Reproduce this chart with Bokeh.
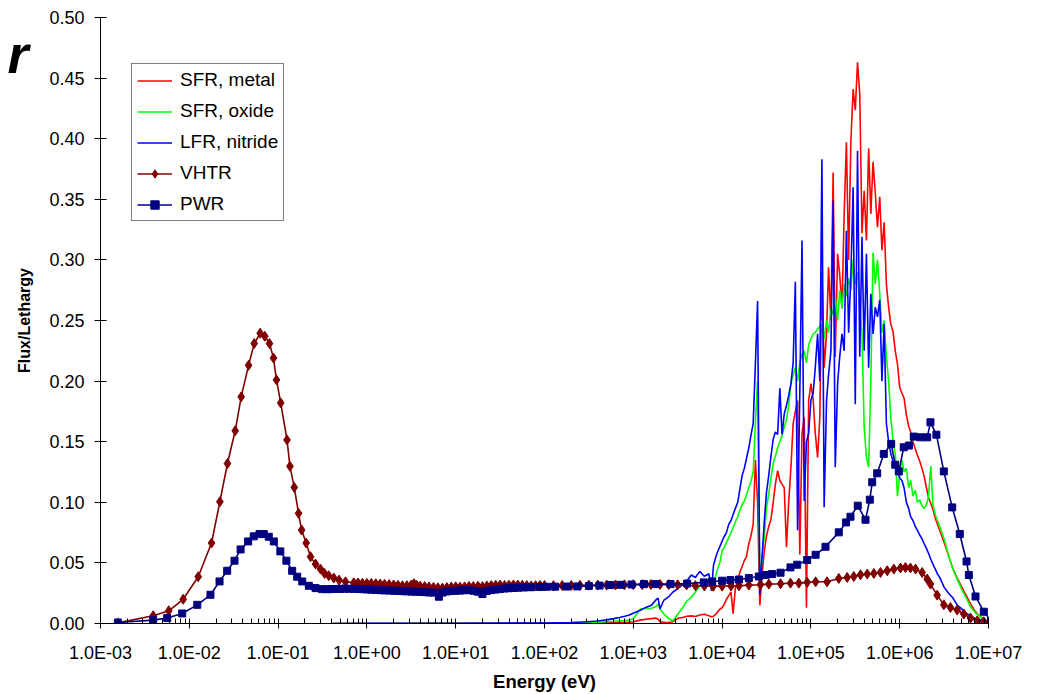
from bokeh.plotting import figure
from bokeh.models import FixedTicker, Range1d, LinearAxis
from bokeh.embed import file_html
from bokeh.resources import INLINE

FONT = "Liberation Sans"

# ---------------- axis ticks ----------------
x_ticks = [1e-3, 1e-2, 1e-1, 1e0, 1e1, 1e2, 1e3, 1e4, 1e5, 1e6, 1e7]
x_tick_labels = ["1.0E-03", "1.0E-02", "1.0E-01", "1.0E+00", "1.0E+01", "1.0E+02",
                 "1.0E+03", "1.0E+04", "1.0E+05", "1.0E+06", "1.0E+07"]
y_ticks = [0.00, 0.05, 0.10, 0.15, 0.20, 0.25, 0.30, 0.35, 0.40, 0.45, 0.50]
y_tick_labels = ["0.00", "0.05", "0.10", "0.15", "0.20", "0.25", "0.30", "0.35",
                 "0.40", "0.45", "0.50"]

# ---------------- fast spectra (shared energy groups, eV) ----------------
fast_energy = [
    0.41, 1.0, 10.0, 100.0, 200.0, 300.0, 400.0, 500.0, 600.0, 700.0, 800.0, 900.0,
    1000.0, 1200.0, 1400.0, 1600.0, 1800.0, 1900.0, 2000.0, 2200.0, 2500.0, 2800.0,
    3200.0, 3600.0, 4000.0, 4500.0, 5000.0, 5600.0, 6300.0, 7100.0, 7600.0, 8000.0,
    8500.0, 9000.0, 9500.0,
    1.00e4, 1.06e4, 1.12e4, 1.19e4, 1.26e4, 1.33e4, 1.41e4, 1.50e4, 1.58e4, 1.68e4,
    1.78e4, 1.88e4, 2.00e4, 2.11e4, 2.24e4, 2.37e4, 2.51e4, 2.66e4, 2.82e4, 2.99e4,
    3.16e4, 3.35e4, 3.55e4, 3.76e4, 3.98e4, 4.22e4, 4.47e4, 4.73e4, 5.01e4, 5.31e4,
    5.62e4, 5.96e4, 6.31e4, 6.68e4, 7.08e4, 7.50e4, 7.94e4, 8.41e4, 8.91e4, 9.44e4,
    1.00e5, 1.06e5, 1.12e5, 1.19e5, 1.26e5, 1.33e5, 1.41e5, 1.50e5, 1.58e5, 1.68e5,
    1.78e5, 1.88e5, 2.00e5, 2.11e5, 2.24e5, 2.37e5, 2.51e5, 2.66e5, 2.82e5, 2.99e5,
    3.16e5, 3.35e5, 3.55e5, 3.76e5, 3.98e5, 4.22e5, 4.47e5, 4.73e5, 5.01e5, 5.31e5,
    5.62e5, 5.96e5, 6.31e5, 6.68e5, 7.08e5, 7.50e5, 7.94e5, 8.41e5, 8.91e5, 9.44e5,
    1.00e6, 1.06e6, 1.12e6, 1.19e6, 1.26e6, 1.33e6, 1.41e6, 1.50e6, 1.58e6, 1.68e6,
    1.78e6, 1.88e6, 2.00e6, 2.11e6, 2.24e6, 2.37e6, 2.51e6, 2.66e6, 2.82e6, 2.99e6, 3.16e6,
    3.55e6, 3.98e6, 4.47e6, 5.01e6, 5.62e6, 6.31e6, 7.08e6, 7.94e6, 8.91e6, 1.00e7, 1.05e7,
]

sfr_metal = [
    0, 0, 0.0001, 0.0001, 0.0002, 0.0003, 0.0004, 0.0005, 0.0006, 0.0008, 0.001, 0.0011,
    0.0014, 0.0028, 0.0035, 0.004, 0.0044, 0.0035, 0.0014, 0.001, 0.0008, 0.0015,
    0.0044, 0.005, 0.006, 0.0063, 0.0058, 0.007, 0.0077, 0.0063, 0.0055, 0.006,
    0.0077, 0.010, 0.012,
    0.013, 0.016, 0.020, 0.023, 0.026, 0.008, 0.029, 0.036, 0.042, 0.047,
    0.052, 0.055, 0.066, 0.072, 0.082, 0.135, 0.100, 0.015, 0.040, 0.060,
    0.072, 0.080, 0.086, 0.100, 0.115, 0.126, 0.118, 0.115, 0.112, 0.063,
    0.100, 0.129, 0.165, 0.175, 0.184, 0.057, 0.157, 0.170, 0.013, 0.184,
    0.198, 0.185, 0.157, 0.137, 0.170, 0.290, 0.211, 0.239, 0.294, 0.250,
    0.372, 0.220, 0.305, 0.288, 0.260, 0.338, 0.397, 0.300, 0.398, 0.441,
    0.4235, 0.463, 0.437, 0.322, 0.357, 0.316, 0.392, 0.338, 0.381, 0.355,
    0.327, 0.352, 0.308, 0.331, 0.280, 0.261, 0.247, 0.241, 0.225, 0.214,
    0.195, 0.190, 0.186, 0.172, 0.163, 0.158, 0.150, 0.144, 0.139, 0.134,
    0.128, 0.122, 0.112, 0.104, 0.099, 0.094, 0.087, 0.082, 0.077, 0.072, 0.067,
    0.056, 0.045, 0.037, 0.030, 0.023, 0.016, 0.010, 0.006, 0.0033, 0.0012, 0.0,
]

sfr_oxide = [
    0, 0, 0.0001, 0.0002, 0.0004, 0.0007, 0.001, 0.0014, 0.0018, 0.0022, 0.0025, 0.0028,
    0.004, 0.0119, 0.0124, 0.0125, 0.014, 0.016, 0.012, 0.008, 0.004, 0.0022,
    0.008, 0.013, 0.0185, 0.0216, 0.026, 0.031, 0.034, 0.0366, 0.029, 0.027,
    0.040, 0.046, 0.051,
    0.060, 0.063, 0.067, 0.071, 0.075, 0.079, 0.084, 0.088, 0.093, 0.098,
    0.101, 0.106, 0.112, 0.117, 0.125, 0.165, 0.200, 0.030, 0.055, 0.072,
    0.095, 0.107, 0.120, 0.132, 0.138, 0.145, 0.150, 0.155, 0.162, 0.168,
    0.180, 0.198, 0.205, 0.211, 0.200, 0.215, 0.222, 0.225, 0.215, 0.230,
    0.235, 0.239, 0.240, 0.243, 0.245, 0.250, 0.235, 0.250, 0.240, 0.260,
    0.255, 0.270, 0.250, 0.275, 0.260, 0.280, 0.270, 0.285, 0.275, 0.300,
    0.280, 0.290, 0.260, 0.240, 0.162, 0.137, 0.129, 0.200, 0.306, 0.280,
    0.300, 0.272, 0.240, 0.250, 0.220, 0.200, 0.170, 0.150, 0.140, 0.105,
    0.123, 0.135, 0.125, 0.128, 0.112, 0.118, 0.105, 0.110, 0.100, 0.102,
    0.097, 0.095, 0.098, 0.105, 0.130, 0.098, 0.090, 0.085, 0.080, 0.075, 0.070,
    0.056, 0.045, 0.036, 0.028, 0.021, 0.0135, 0.009, 0.006, 0.003, 0.001, 0.0,
]

lfr_nitride = [
    0, 0.0001, 0.0002, 0.0004, 0.0008, 0.0015, 0.002, 0.003, 0.004, 0.005, 0.006, 0.007,
    0.0085, 0.011, 0.0135, 0.015, 0.0195, 0.021, 0.012, 0.019, 0.022, 0.026,
    0.029, 0.032, 0.035, 0.040, 0.038, 0.043, 0.039, 0.041, 0.027, 0.048,
    0.055, 0.060, 0.064,
    0.068, 0.072, 0.075, 0.082, 0.085, 0.090, 0.095, 0.100, 0.110, 0.122,
    0.128, 0.136, 0.145, 0.155, 0.165, 0.214, 0.266, 0.024, 0.055, 0.085,
    0.108, 0.122, 0.138, 0.152, 0.158, 0.156, 0.194, 0.156, 0.173, 0.180,
    0.188, 0.198, 0.215, 0.282, 0.077, 0.190, 0.316, 0.101, 0.150, 0.157,
    0.184, 0.190, 0.211, 0.239, 0.200, 0.383, 0.096, 0.184, 0.205, 0.225,
    0.349, 0.129, 0.198, 0.220, 0.239, 0.225, 0.324, 0.240, 0.288, 0.360,
    0.181, 0.390, 0.220, 0.319, 0.225, 0.305, 0.211, 0.272, 0.239, 0.261,
    0.253, 0.267, 0.200, 0.247, 0.165, 0.150, 0.140, 0.134, 0.131, 0.126,
    0.120, 0.118, 0.112, 0.100, 0.095, 0.088, 0.085, 0.080, 0.077, 0.073,
    0.070, 0.066, 0.062, 0.058, 0.053, 0.049, 0.045, 0.041, 0.038, 0.034, 0.030,
    0.025, 0.021, 0.015, 0.012, 0.0085, 0.006, 0.0042, 0.0032, 0.0018, 0.0008, 0.0,
]

# ---------------- VHTR ----------------
vhtr_energy = [
    1.57e-3, 3.92e-3, 5.87e-3, 8.53e-3, 1.26e-2, 1.78e-2, 2.21e-2, 2.69e-2, 3.29e-2,
    3.84e-2, 4.65e-2, 5.38e-2, 6.28e-2, 7.08e-2, 8.00e-2, 8.87e-2, 9.59e-2, 0.107,
    0.126, 0.136, 0.152, 0.170, 0.184, 0.207, 0.232, 0.264, 0.300, 0.333, 0.372,
    0.424, 0.486, 0.574, 0.711,
    0.794, 0.891, 1.0, 1.12, 1.26, 1.41, 1.58, 1.78, 2.0, 2.24, 2.51, 2.82, 3.16,
    3.39, 3.63, 3.98, 4.47, 5.01, 5.62, 6.31, 7.08, 7.94, 8.91, 10.0, 11.2, 12.6,
    14.1, 15.8, 17.8, 20.0, 22.4, 25.1, 28.2, 31.6, 35.5, 39.8, 44.7, 50.1, 56.2,
    63.1, 70.8, 79.4, 89.1, 100.0,
    126.0, 158.0, 200.0, 251.0, 316.0, 398.0, 501.0, 631.0, 794.0, 1000.0, 1260.0,
    1580.0, 2000.0, 2510.0, 3160.0, 3980.0, 5010.0, 6310.0, 7940.0,
    1.0e4, 1.26e4, 1.55e4, 2.0e4, 2.70e4, 3.36e4, 4.55e4, 5.89e4, 7.31e4, 9.08e4,
    1.13e5, 1.52e5, 2.06e5, 2.56e5, 3.04e5, 3.62e5, 4.31e5, 5.12e5, 6.08e5, 7.23e5,
    8.59e5, 1.02e6, 1.16e6, 1.32e6, 1.51e6, 1.79e6, 2.04e6, 2.22e6, 2.64e6, 3.14e6,
    3.73e6, 4.44e6, 5.27e6, 6.27e6, 7.46e6, 8.85e6, 1.0e7,
]
vhtr_flux = [
    0.0005, 0.0064, 0.0105, 0.020, 0.0386, 0.0664, 0.1005, 0.132, 0.159,
    0.187, 0.213, 0.231, 0.2395, 0.237, 0.231, 0.219, 0.201, 0.182,
    0.1515, 0.1297, 0.1123, 0.0909, 0.0771, 0.0664, 0.0551, 0.049, 0.0449, 0.0413, 0.0394,
    0.0375, 0.0358, 0.0344, 0.0336,
    0.0334, 0.0332, 0.0331, 0.0330, 0.0328, 0.0326, 0.0323, 0.0321, 0.0318, 0.0315, 0.0311,
    0.0312, 0.0318, 0.0328, 0.0316, 0.0308, 0.0305, 0.0302, 0.0298, 0.0294, 0.0292, 0.0296,
    0.0301, 0.0303, 0.0300, 0.0302, 0.0306, 0.0305, 0.0308, 0.0304, 0.0310, 0.0313, 0.0316,
    0.0317, 0.0314, 0.0316, 0.0318, 0.0317, 0.0315, 0.0313, 0.0310, 0.0312, 0.0314, 0.0313,
    0.0312, 0.0313, 0.0314, 0.0315, 0.0316, 0.0317, 0.0317, 0.0318, 0.0319, 0.0320, 0.0321,
    0.0322, 0.0322, 0.0321, 0.0320, 0.0318, 0.0312, 0.0310, 0.0308,
    0.0308, 0.0309, 0.0311, 0.0317, 0.0320, 0.0325, 0.0328, 0.0333, 0.0333, 0.0339,
    0.0344, 0.0344, 0.0372, 0.0380, 0.0388, 0.0402, 0.0408, 0.0413, 0.0421, 0.0435,
    0.0449, 0.0458, 0.0462, 0.0458, 0.0449, 0.0421, 0.0367, 0.0325, 0.0234, 0.0154,
    0.0132, 0.0111, 0.0078, 0.0045, 0.0022, 0.0014, 0.0005,
]

# ---------------- PWR ----------------
pwr_energy = [
    1.57e-3, 3.92e-3, 5.64e-3, 8.32e-3, 1.23e-2, 1.73e-2, 2.19e-2, 2.67e-2, 3.23e-2,
    3.78e-2, 4.60e-2, 5.32e-2, 6.18e-2, 6.90e-2, 7.85e-2, 8.95e-2, 0.106, 0.124, 0.144,
    0.164, 0.187, 0.222, 0.264, 0.313,
    0.355, 0.398, 0.447, 0.501, 0.562, 0.631, 0.708, 0.794, 0.891, 1.0, 1.12, 1.26,
    1.41, 1.58, 1.78, 2.0, 2.24, 2.51, 2.82, 3.16, 3.55, 3.98, 4.47, 5.01, 5.62, 6.46,
    7.08, 7.94, 8.91, 10.0, 11.2, 12.6, 14.1, 15.8, 17.8, 20.0, 22.4, 25.1, 28.2, 31.6,
    35.5, 39.8, 44.7, 50.1, 58.9, 70.8, 89.1, 107.0,
    132.0, 178.0, 234.0, 316.0, 417.0, 550.0, 724.0, 955.0, 1320.0, 1780.0, 2630.0,
    4040.0, 6220.0, 7730.0, 1.00e4, 1.24e4, 1.55e4, 2.00e4, 2.59e4, 3.08e4, 3.66e4,
    4.55e4, 5.89e4, 7.01e4, 9.08e4, 1.13e5, 1.46e5, 2.06e5, 2.49e5, 2.79e5, 3.37e5,
    4.12e5, 4.61e5, 4.90e5, 5.58e5, 6.62e5, 8.02e5, 8.91e5, 9.77e5, 1.11e6, 1.27e6,
    1.44e6, 1.71e6, 2.04e6, 2.22e6, 2.59e6, 3.14e6, 3.90e6, 4.75e6, 5.66e6, 6.01e6,
    7.14e6, 8.85e6, 1.07e7,
]
pwr_flux = [
    0.0008, 0.0028, 0.0045, 0.0083, 0.0154, 0.0237, 0.0347, 0.0435, 0.0518,
    0.0611, 0.0677, 0.0719, 0.0738, 0.0738, 0.0716, 0.0677, 0.0595, 0.0518, 0.0435,
    0.0386, 0.0347, 0.0311, 0.0292, 0.0284,
    0.0283, 0.0284, 0.0285, 0.0286, 0.0287, 0.0287, 0.0286, 0.0285, 0.0283, 0.0281, 0.0279, 0.0277,
    0.0275, 0.0273, 0.0272, 0.0270, 0.0269, 0.0267, 0.0265, 0.0263, 0.0262, 0.0261, 0.0259, 0.0256,
    0.0255, 0.0221, 0.0255, 0.0264, 0.0268, 0.0270, 0.0272, 0.0274, 0.0276, 0.0270, 0.0262, 0.0243,
    0.0268, 0.0276, 0.0280, 0.0285, 0.0289, 0.0291, 0.0293, 0.0295, 0.0297, 0.0299, 0.0301, 0.0303,
    0.0304, 0.0305, 0.0306, 0.0310, 0.0313, 0.0317, 0.0319, 0.0322, 0.0325, 0.0325, 0.0325,
    0.0330, 0.0339, 0.0347, 0.0353, 0.0358, 0.0363, 0.0375, 0.0388, 0.0400, 0.0408,
    0.0419, 0.0463, 0.0485, 0.0524, 0.0567, 0.0633, 0.0752, 0.0834, 0.0881, 0.0972,
    0.0856, 0.1022, 0.1165, 0.1239, 0.1399, 0.1482, 0.1310, 0.1255, 0.1454, 0.1468,
    0.1542, 0.1536, 0.1536, 0.1660, 0.1558, 0.1255, 0.0958, 0.0738, 0.0512, 0.0400,
    0.0223, 0.0097, 0.0022,
]

# cut-off fragment of a slide title at the top-left corner
corner_text = "r"
corner_text_level = 0.47

assert len(fast_energy) == len(sfr_metal) == len(sfr_oxide) == len(lfr_nitride)
assert len(vhtr_energy) == len(vhtr_flux)
assert len(pwr_energy) == len(pwr_flux)

x_minor = [m * t for t in x_ticks[:-1] for m in range(2, 10)]

p = figure(width=1024, height=694, x_axis_type="log",
           x_range=Range1d(1e-3, 1e7), y_range=Range1d(0, 0.5),
           output_backend="svg", toolbar_location=None,
           min_border_left=100, min_border_right=36,
           min_border_top=17, min_border_bottom=71)
p.outline_line_color = None
p.grid.visible = False
p.background_fill_color = "white"
p.border_fill_color = "white"

xa = p.xaxis[0]
xa.ticker = FixedTicker(ticks=x_ticks, minor_ticks=x_minor)
xa.major_label_overrides = dict(zip(x_ticks, x_tick_labels))
xa.major_tick_in = 5
xa.major_tick_out = 5
xa.minor_tick_in = 5
xa.minor_tick_out = 0
xa.major_label_standoff = 14
xa.axis_label = "Energy (eV)"
xa.axis_label_standoff = 5
xa.axis_label_text_font_size = "18.5px"

ya = p.yaxis[0]
ya.ticker = FixedTicker(ticks=y_ticks, minor_ticks=[])
ya.major_label_overrides = dict(zip(y_ticks, y_tick_labels))
ya.major_tick_in = 6
ya.major_tick_out = 6
ya.minor_tick_in = 0
ya.minor_tick_out = 0
ya.major_label_standoff = 10
ya.axis_label = "Flux/Lethargy"
ya.axis_label_standoff = 13
ya.axis_label_text_font_size = "16px"

for ax in (xa, ya):
    ax.axis_line_color = "black"
    ax.major_tick_line_color = "black"
    ax.minor_tick_line_color = "black"
    ax.major_label_text_font = FONT
    ax.major_label_text_font_size = "18px"
    ax.major_label_text_color = "black"
    ax.axis_label_text_font = FONT
    ax.axis_label_text_font_style = "bold"
    ax.axis_label_text_color = "black"

# outer, invisible axis that only carries the corner text fragment
corner = LinearAxis(ticker=FixedTicker(ticks=[corner_text_level], minor_ticks=[]),
                    major_label_overrides={corner_text_level: corner_text},
                    axis_line_color=None, major_tick_line_color=None,
                    minor_tick_line_color=None, major_tick_in=0, major_tick_out=0,
                    minor_tick_in=0, minor_tick_out=0, major_label_standoff=-15,
                    major_label_text_font=FONT, major_label_text_font_size="54px",
                    major_label_text_font_style="bold italic",
                    major_label_text_color="black")
p.add_layout(corner, "left")

p.line(fast_energy, sfr_metal, line_color="#FF0000", line_width=1.6, legend_label="SFR, metal")
p.line(fast_energy, sfr_oxide, line_color="#00FF00", line_width=1.6, legend_label="SFR, oxide")
p.line(fast_energy, lfr_nitride, line_color="#0000FF", line_width=1.6, legend_label="LFR, nitride")
p.line(vhtr_energy, vhtr_flux, line_color="#800000", line_width=1.6, legend_label="VHTR")
p.scatter(vhtr_energy, vhtr_flux, marker="diamond", size=10, fill_color="#800000",
          line_color="#800000", legend_label="VHTR")
p.line(pwr_energy, pwr_flux, line_color="#000080", line_width=1.6, legend_label="PWR")
p.scatter(pwr_energy, pwr_flux, marker="square", size=7, fill_color="#000080",
          line_color="#000080", legend_label="PWR")

lg = p.legend[0]
lg.location = (31, 402)
lg.margin = 0
lg.padding = 5
lg.spacing = 9
lg.glyph_width = 35
lg.glyph_height = 21
lg.label_height = 21
lg.label_standoff = 8
lg.label_text_font = FONT
lg.label_text_font_size = "19px"
lg.label_text_color = "black"
lg.border_line_color = "black"
lg.border_line_width = 1
lg.background_fill_color = "white"
lg.background_fill_alpha = 1.0

open("out.html", "w").write(file_html(p, INLINE))
